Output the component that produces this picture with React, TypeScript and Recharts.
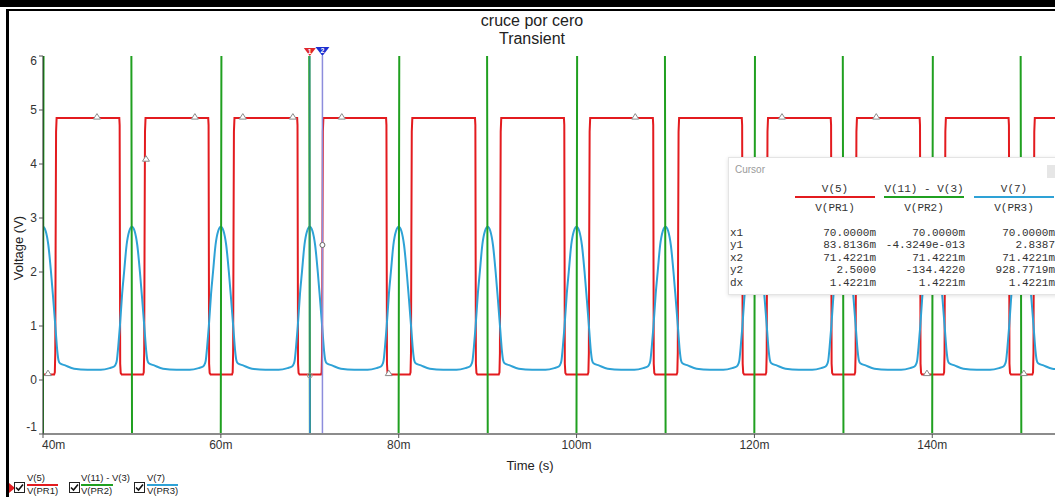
import { ComposedChart, Line, XAxis, YAxis, ReferenceLine, ReferenceDot } from "recharts";

// zero crossings of the mains signal (ms); 160 is just past the right edge
const zeroCrossings = [40, 50, 60, 70, 80, 90, 100, 110, 120, 130, 140, 150, 160];

// V(5): comparator output, one cycle around each crossing (tau in ms)
const redTau = [-5, -1.42, -1.38, -1.35, -1.32, -1.26, -1.15, 0, 1.25, 1.33, 1.38, 1.42, 1.47, 1.53];
const redVolts = [4.85, 4.85, 4.72, 2.4, 0.3, 0.13, 0.1, 0.1, 0.1, 0.14, 0.5, 2.5, 4.6, 4.85];

// V(7): rectified hump around each crossing
const blueTau = [-5, -3.5, -2.5, -2.0, -1.8, -1.7, -1.55, -1.35, -1.1, -0.88, -0.6, -0.3, 0, 0.3, 0.6, 0.9, 1.15, 1.42, 1.6, 1.75, 1.9, 2.5, 3.5];
const blueVolts = [0.19, 0.19, 0.22, 0.25, 0.3, 0.36, 0.6, 1.0, 1.6, 2.0, 2.5, 2.76, 2.84, 2.76, 2.5, 2.0, 1.5, 0.93, 0.55, 0.36, 0.31, 0.27, 0.21];

// V(11) - V(3): 220 Vrms mains, only the crossings fall inside the axis
const greenTau = [-5, -1.42, -0.2, 0, 0.2, 1.42];
const greenVolts = [-311, -134.4, -19.5, 0, 19.5, 134.4];
const greenDirection = [1, -1, 1, -1, 1, -1, 1, -1, 1, -1, 1, -1, 1];

// trace symbols on V(5)
const markerTimes = [40.56, 46.07, 51.58, 57.08, 62.47, 68.1, 73.6, 78.88, 106.6, 123.1, 133.7, 139.4, 150.3];
const markerVolts = [0.1, 4.85, 4.07, 4.85, 4.85, 4.85, 4.85, 0.1, 4.85, 4.85, 4.85, 0.1, 0.1];

const xTicks = [40, 60, 80, 100, 120, 140];
const yTicks = [-1, 0, 1, 2, 3, 4, 5, 6];

// cursor readout
const cursorX1 = 70;
const cursorX2 = 71.4221;
const cursorY1 = 0.0838;
const cursorY2 = 2.5;
const readoutRows = ["x1", "y1", "x2", "y2", "dx"];
const readoutV5 = ["70.0000m", "83.8136m", "71.4221m", "2.5000", "1.4221m"];
const readoutV11 = ["70.0000m", "-4.3249e-013", "71.4221m", "-134.4220", "1.4221m"];
const readoutV7 = ["70.0000m", "2.8387", "71.4221m", "928.7719m", "1.4221m"];

const RED = "#e31b1f";
const GREEN = "#20a020";
const BLUE = "#2ea2d6";

const buildCycles = (tau: number[], volts: number[], dir?: number[]) =>
  zeroCrossings.flatMap((c, k) => tau.map((d, i) => ({ t: +(c + d).toFixed(4), v: volts[i] * (dir ? dir[k] : 1) })));

const redData = buildCycles(redTau, redVolts);
const blueData = buildCycles(blueTau, blueVolts);
const greenData = buildCycles(greenTau, greenVolts, greenDirection);

const sans = "'Liberation Sans', Arial, sans-serif";
const mono = "'Liberation Mono', 'Courier New', monospace";

const Triangle = (props: any) => {
  const { cx, cy } = props;
  return <path d={`M${cx - 3.5},${cy + 1} L${cx + 3.5},${cy + 1} L${cx},${cy - 4.5} Z`} fill="#fff" stroke="#8a8a8a" strokeWidth={1} />;
};

const CursorFlag = (color: string, n: string, w: number, h: number) => (props: any) => {
  const { viewBox } = props;
  const x = viewBox.x;
  const y = viewBox.y;
  return (
    <g>
      <path d={`M${x - w / 2},${y - h} L${x + w / 2},${y - h} L${x},${y} Z`} fill={color} />
      <text x={x} y={y - h + 6} fill="#fff" fontSize={7} textAnchor="middle" fontFamily={sans} fontWeight="bold">
        {n}
      </text>
    </g>
  );
};

const XTick = (props: any) => {
  const { x, y, payload, index } = props;
  return (
    <text x={index === 0 ? x - 1 : x} y={y + 9} fontSize={12} fill="#333" fontFamily={sans} textAnchor={index === 0 ? "start" : "middle"}>
      {`${payload.value}m`}
    </text>
  );
};

// end labels are nudged inward like the simulator does
const YTick = (props: any) => {
  const { x, y, payload } = props;
  const shift = payload.value === 6 ? 5 : payload.value === -1 ? -7 : 0;
  return (
    <text x={x} y={y + shift + 4} fontSize={12} fill="#333" fontFamily={sans} textAnchor="end">
      {payload.value}
    </text>
  );
};

const CheckBox = ({ left }: { left: number }) => (
  <svg style={{ position: "absolute", left, top: 482 }} width={11} height={11}>
    <rect x={0.5} y={0.5} width={10} height={10} fill="#fff" stroke="#222" />
    <path d="M2,5.5 L4.5,8 L9,2.5" fill="none" stroke="#111" strokeWidth={1.6} />
  </svg>
);

const LegendItem = ({ left, name, probe, color, line }: { left: number; name: string; probe: string; color: string; line: number }) => (
  <div style={{ position: "absolute", left, top: 473, fontFamily: sans, fontSize: 9.5, color: "#222" }}>
    <div style={{ lineHeight: "10px" }}>{name}</div>
    <div style={{ width: line, height: 2, background: color, marginTop: 1 }} />
    <div style={{ lineHeight: "10px" }}>{probe}</div>
  </div>
);

const colRight = [876, 965, 1055];
const colCenter = [835, 924, 1014];
const rowY = [234, 246, 259, 271, 284];

export default function App() {
  const headers = [
    { top: "V(5)", bottom: "V(PR1)", color: RED },
    { top: "V(11) - V(3)", bottom: "V(PR2)", color: GREEN },
    { top: "V(7)", bottom: "V(PR3)", color: BLUE },
  ];
  const cols = [readoutV5, readoutV11, readoutV7];
  return (
    <div style={{ position: "fixed", left: 0, top: 0, width: 1055, height: 497, overflow: "hidden", background: "#fff" }}>
      <ComposedChart width={1055} height={497} margin={{ top: 56, right: 0, bottom: 0, left: 0 }}>
        <XAxis
          type="number"
          dataKey="t"
          domain={[40, 153.8]}
          ticks={xTicks}
          allowDataOverflow
          height={63}
          tick={<XTick />}
          tickSize={4}
          axisLine={{ stroke: "#8c8c8c", strokeWidth: 2 }}
          tickLine={{ stroke: "#555" }}
        />
        <YAxis
          type="number"
          domain={[-1, 6]}
          ticks={yTicks}
          allowDataOverflow
          width={43}
          tickSize={4}
          tick={<YTick />}
          axisLine={{ stroke: "#222" }}
          tickLine={{ stroke: "#555" }}
        />
        <Line data={redData} dataKey="v" type="linear" stroke={RED} strokeWidth={2} dot={false} isAnimationActive={false} />
        <Line data={blueData} dataKey="v" type="monotone" stroke={BLUE} strokeWidth={2} dot={false} isAnimationActive={false} />
        <Line data={greenData} dataKey="v" type="linear" stroke={GREEN} strokeWidth={2} dot={false} isAnimationActive={false} />
        {markerTimes.map((t, i) => (
          <ReferenceDot key={i} x={t} y={markerVolts[i]} r={3} shape={<Triangle />} />
        ))}
        <ReferenceLine x={cursorX1} stroke="#2f8f76" strokeWidth={1.5} label={CursorFlag("#e0262a", "1", 12, 8)} />
        <ReferenceLine segment={[{ x: cursorX1, y: -1 }, { x: cursorX1, y: cursorY1 }]} stroke="#3a8fd0" strokeWidth={1.5} />
        <ReferenceLine x={cursorX2} stroke="#8d8ddc" strokeWidth={1.5} label={CursorFlag("#1c2fd0", "2", 14, 9)} />
        <ReferenceDot x={cursorX1} y={cursorY1} r={2.5} fill="none" stroke="#999" />
        <ReferenceDot x={cursorX2} y={cursorY2} r={2.5} fill="#fff" stroke="#666" />
      </ComposedChart>

      {/* window frame */}
      <div style={{ position: "absolute", left: 0, top: 0, width: 1055, height: 7, background: "#000" }} />
      <div style={{ position: "absolute", left: 6, top: 9, width: 1049, height: 1.5, background: "#000" }} />
      <div style={{ position: "absolute", left: 6, top: 9, width: 2.5, height: 488, background: "#000" }} />

      {/* titles */}
      <div style={{ position: "absolute", left: 532, top: 12, transform: "translateX(-50%)", textAlign: "center", fontFamily: sans, fontSize: 16, lineHeight: "18px", color: "#222", whiteSpace: "nowrap" }}>
        <div>cruce por cero</div>
        <div>Transient</div>
      </div>
      <div style={{ position: "absolute", left: 530, top: 458, transform: "translateX(-50%)", fontFamily: sans, fontSize: 13, color: "#222" }}>Time (s)</div>
      <div style={{ position: "absolute", left: 18, top: 248, transform: "translate(-50%, -50%) rotate(-90deg)", fontFamily: sans, fontSize: 13, color: "#222", whiteSpace: "nowrap" }}>
        Voltage (V)
      </div>

      {/* legend */}
      <svg style={{ position: "absolute", left: 9, top: 483 }} width={7} height={10}>
        <path d="M0,0 L6,5 L0,10 Z" fill={RED} />
      </svg>
      <CheckBox left={14} />
      <LegendItem left={27} name="V(5)" probe="V(PR1)" color={RED} line={31} />
      <CheckBox left={69} />
      <LegendItem left={81} name="V(11) - V(3)" probe="V(PR2)" color={GREEN} line={32} />
      <CheckBox left={134} />
      <LegendItem left={147} name="V(7)" probe="V(PR3)" color={BLUE} line={31} />

      {/* cursor readout */}
      <div style={{ position: "absolute", left: 728, top: 157, width: 360, height: 136, background: "#fff", border: "1px solid #e4e4e4", boxShadow: "0 1px 4px rgba(0,0,0,0.12)" }} />
      <div style={{ position: "absolute", left: 735, top: 164, fontFamily: sans, fontSize: 10, color: "#9a9a9a" }}>Cursor</div>
      <div style={{ position: "absolute", left: 1047, top: 165, width: 12, height: 13, background: "#e6e6e6" }} />
      {headers.map((h, i) => (
        <div key={i}>
          <div style={{ position: "absolute", left: colCenter[i] - 50, width: 100, top: 183, textAlign: "center", fontFamily: mono, fontSize: 11, color: "#333" }}>{h.top}</div>
          <div style={{ position: "absolute", left: colCenter[i] - 40, width: 80, top: 196, height: 2, background: h.color }} />
          <div style={{ position: "absolute", left: colCenter[i] - 50, width: 100, top: 202, textAlign: "center", fontFamily: mono, fontSize: 11, color: "#333" }}>{h.bottom}</div>
        </div>
      ))}
      {readoutRows.map((r, j) => (
        <div key={r}>
          <div style={{ position: "absolute", left: 730, top: rowY[j] - 7, fontFamily: mono, fontSize: 11, color: "#333" }}>{r}</div>
          {cols.map((c, i) => (
            <div key={i} style={{ position: "absolute", left: colRight[i] - 120, width: 120, top: rowY[j] - 7, textAlign: "right", fontFamily: mono, fontSize: 11, color: "#333" }}>
              {c[j]}
            </div>
          ))}
        </div>
      ))}
    </div>
  );
}
